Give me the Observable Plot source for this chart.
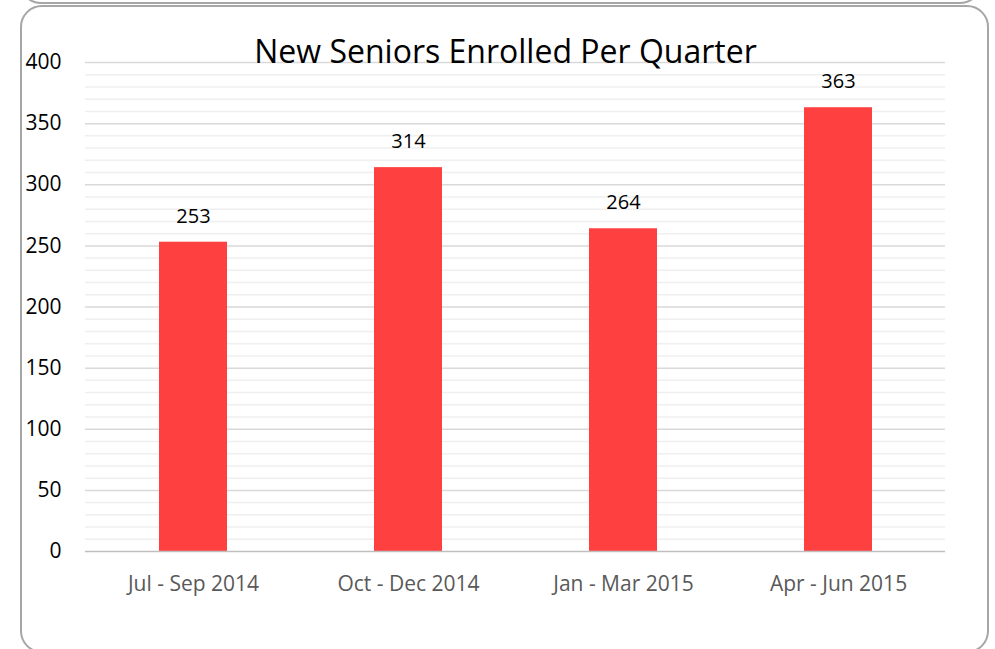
<!DOCTYPE html>
<html>
<head>
<meta charset="utf-8">
<script src="https://cdn.jsdelivr.net/npm/d3@7"></script>
<script src="https://cdn.jsdelivr.net/npm/@observablehq/plot@0.6"></script>
<style>
  html, body { margin: 0; padding: 0; background: #fff; }
  #wrap { position: relative; width: 995px; height: 649px; overflow: hidden; }
  .box { position: absolute; border: 2px solid #a6a6a6; border-radius: 22px; box-sizing: border-box; }
  #chart { position: absolute; left: 0; top: 0; }
</style>
</head>
<body>
<div id="wrap">
  <div class="box" style="left:19px; top:-60px; width:963px; height:64px;"></div>
  <div class="box" style="left:20px; top:5px; width:969px; height:648px;"></div>
  <div id="chart"></div>
</div>
<script>
const title = "New Seniors Enrolled Per Quarter";
const quarters = ["Jul - Sep 2014", "Oct - Dec 2014", "Jan - Mar 2015", "Apr - Jun 2015"];
const enrolled = [253, 314, 264, 363];
const yTicks = [0, 50, 100, 150, 200, 250, 300, 350, 400];
const yMinorTicks = d3.range(0, 400, 10).filter(v => v % 50 !== 0);

const data = quarters.map((q, i) => ({quarter: q, value: enrolled[i]}));

const chart = Plot.plot({
  width: 995,
  height: 649,
  marginLeft: 85,
  marginRight: 50,
  marginTop: 62,
  marginBottom: 98,
  style: {fontFamily: "'Open Sans', sans-serif", background: "transparent", color: "#000"},
  x: {domain: quarters, paddingInner: 0.684, paddingOuter: 0.342, label: null},
  y: {domain: [0, 400], label: null},
  marks: [
    Plot.ruleY(yMinorTicks, {stroke: "#efefef", strokeWidth: 1.5}),
    Plot.ruleY(yTicks.filter(v => v > 0), {stroke: "#d9d9d9", strokeWidth: 1.5}),
    Plot.barY(data, {x: "quarter", y: "value", fill: "#FF4040"}),
    Plot.ruleY([0], {stroke: "#bfbfbf", strokeWidth: 1.5}),
    Plot.axisY({ticks: yTicks, tickSize: 0, tickPadding: 24, fontSize: 21, fill: "#000", label: null}),
    Plot.axisX({tickSize: 0, tickPadding: 25, fontSize: 21, fill: "#595959", label: null}),
    Plot.text(data, {x: "quarter", y: "value", text: d => String(d.value), dy: -26, fontSize: 20, fill: "#000"}),
    Plot.text([title], {frameAnchor: "top", lineAnchor: "bottom", dy: 0, dx: -10, fontSize: 32, fill: "#000"})
  ]
});
document.getElementById("chart").appendChild(chart);
</script>
</body>
</html>
